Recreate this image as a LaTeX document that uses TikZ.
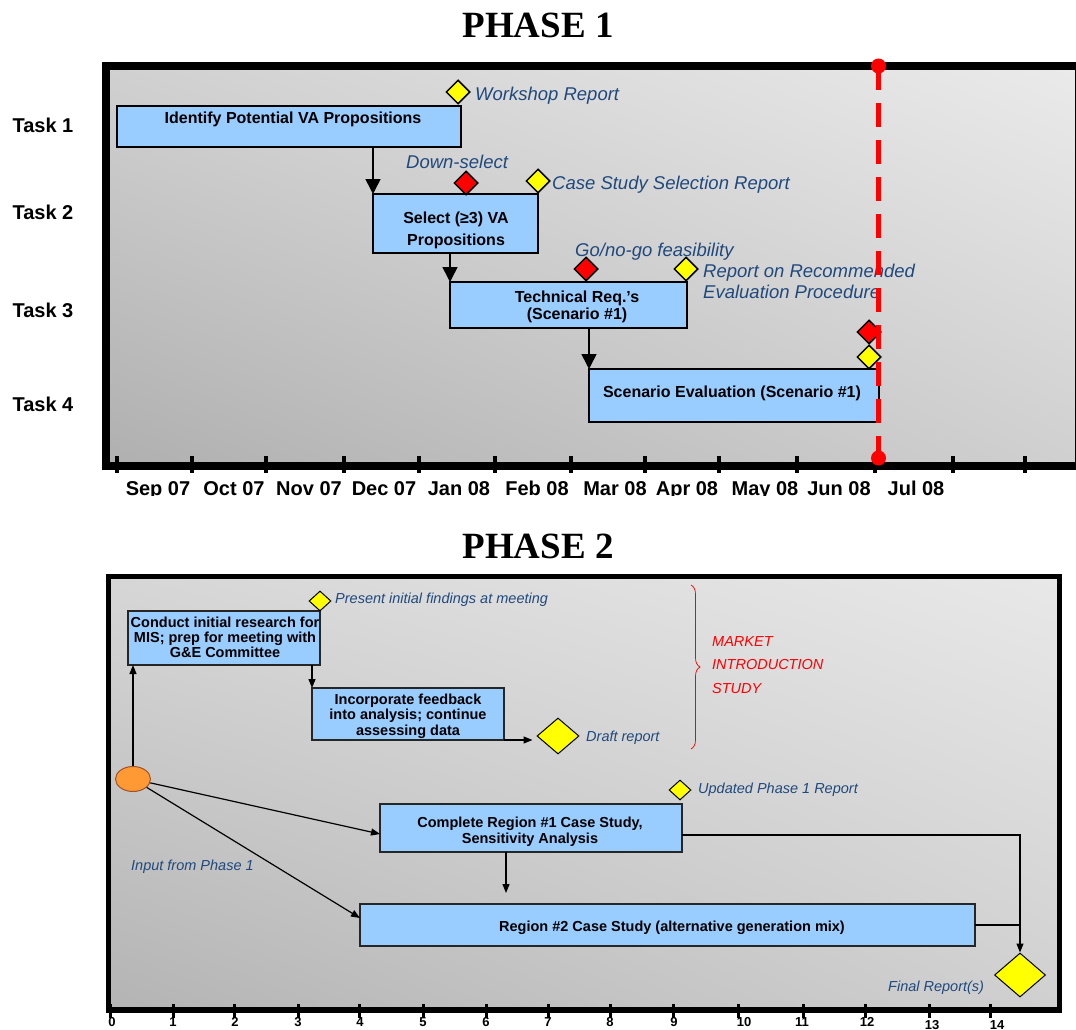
\documentclass[tikz,border=0pt]{standalone}
\usepackage{fontspec}
\setmainfont{Liberation Sans}
\newfontfamily\titleserif{Liberation Serif}
\usetikzlibrary{shapes.geometric,arrows.meta,decorations.pathreplacing,calc,shadings}
\definecolor{boxblue}{HTML}{99CCFF}
\definecolor{lblue}{HTML}{1F497D}
\definecolor{myred}{HTML}{FF0000}
\definecolor{myyellow}{HTML}{FFFF00}
\definecolor{myorange}{HTML}{FF9933}
\definecolor{circedge}{HTML}{A0522D}
\tikzset{
  title/.style={font=\titleserif\bfseries\fontsize{37}{40}\selectfont, anchor=base, inner sep=0pt},
  tasklab/.style={font=\bfseries\fontsize{20}{22}\selectfont, anchor=base, inner sep=0pt},
  month/.style={font=\bfseries\fontsize{20}{22}\selectfont, anchor=base, inner sep=0pt},
  axnum/.style={font=\bfseries\fontsize{13}{14}\selectfont, anchor=base, inner sep=0pt},
  boxA/.style={draw=black, line width=1.8pt, fill=boxblue, rectangle, inner sep=0pt, outer sep=0pt, anchor=north west},
  boxB/.style={draw=black!85, line width=1.2pt, fill=boxblue, rectangle, inner sep=0pt, outer sep=0pt, anchor=north west},
  txtA/.style={font=\bfseries\fontsize{16}{18}\selectfont, anchor=base, inner sep=0pt},
  txtB/.style={font=\bfseries\fontsize{14.5}{15}\selectfont, anchor=base, inner sep=0pt},
  labA/.style={font=\itshape\fontsize{18.5}{21}\selectfont, text=lblue, anchor=base west, inner sep=0pt},
  labB/.style={font=\itshape\fontsize{14.5}{16}\selectfont, text=lblue, anchor=base west, inner sep=0pt},
  labR/.style={font=\itshape\fontsize{14.5}{16}\selectfont, text=myred, anchor=base west, inner sep=0pt},
  ydia/.style={diamond, draw=black, line width=1.5pt, fill=myyellow, inner sep=0pt, minimum width=24pt, minimum height=24pt},
  rdia/.style={diamond, draw=black, line width=1.5pt, fill=myred, inner sep=0pt, minimum width=24pt, minimum height=24pt},
  ydiaB/.style={diamond, draw=black, line width=1pt, fill=myyellow, inner sep=0pt},
  arrA/.style={line width=1.6pt, -{Triangle[width=15pt,length=15pt]}},
  arrB/.style={line width=1.2pt, -{Triangle[width=7pt,length=9pt]}},
  connB/.style={line width=1.2pt},
  reddot/.style={circle, fill=myred, inner sep=0pt, minimum size=15pt},
  reddash/.style={myred, line width=5pt, dash pattern=on 24pt off 13pt},
}
\begin{document}
\begin{tikzpicture}[x=1pt,y=-1pt]
\useasboundingbox (0,0) rectangle (1076,1030);

% ================= PHASE 1 =================
\node[title] (title1) at (538,38) {PHASE 1};

\shade[upper left={rgb,255:red,208;green,208;blue,208}, upper right={rgb,255:red,234;green,234;blue,234},
       lower left={rgb,255:red,176;green,176;blue,176}, lower right={rgb,255:red,208;green,208;blue,208}]
  (110,70) rectangle (1075,462);
\draw[line width=8pt] (106,62) -- (106,470);
\draw[line width=8pt] (102,66) -- (1076,66);
\draw[line width=1pt] (1075,66) -- (1075,466);
\draw[line width=8pt] (102,466) -- (1076,466);
\foreach \x in {117,192,266,344,419,495,571,645,719,797,875,953,1025}
  \draw[line width=4pt] (\x,456) -- (\x,473);

\begin{scope}
  \clip (100,472) rectangle (1076,495.5);
  \foreach \x/\m [count=\i] in {158/Sep 07,234/Oct 07,309/Nov 07,384/Dec 07,459/Jan 08,537/Feb 08,615/Mar 08,687/Apr 08,765/May 08,839/Jun 08,916/Jul 08}
    \node[month] (mon\i) at (\x,495) {\m};
\end{scope}

\node[tasklab] (task1) at (43,133) {Task 1};
\node[tasklab] (task2) at (43,219) {Task 2};
\node[tasklab] (task3) at (43,317) {Task 3};
\node[tasklab] (task4) at (43,411) {Task 4};

\node[boxA, minimum width=344pt, minimum height=41pt] (b1) at (117,106) {};
\node[boxA, minimum width=165pt, minimum height=59pt] (b2) at (373,194) {};
\node[boxA, minimum width=237pt, minimum height=46pt] (b3) at (450,282) {};
\node[boxA, minimum width=290pt, minimum height=53pt] (b4) at (589,369) {};

\node[txtA] (b1t) at (293,124) {Identify Potential VA Propositions};
\node[txtA] (b2t1) at (456,223) {Select (≥3) VA};
\node[txtA] (b2t2) at (456,245) {Propositions};
\node[txtA] (b3t1) at (577,302) {Technical Req.’s};
\node[txtA] (b3t2) at (577,319) {(Scenario \#1)};
\node[txtA] (b4t) at (732,397) {Scenario Evaluation (Scenario \#1)};

\draw[arrA] (b2.north west |- b1.south) -- (b2.north west);
\draw[arrA] (b3.north west |- b2.south) -- (b3.north west);
\draw[arrA] (b4.north west |- b3.south) -- (b4.north west);

\node[ydia] (ms1) at (458,92) {};
\node[rdia] (ms2) at (466,183) {};
\node[ydia] (ms3) at (538,181) {};
\node[rdia] (ms4) at (586,269) {};
\node[ydia] (ms5) at (686,269) {};
\node[rdia] (ms6) at (869,332) {};
\node[ydia] (ms7) at (869,357) {};

\node[labA] (l1) at (475,101) {Workshop Report};
\node[labA] (l2) at (406,168) {Down-select};
\node[labA] (l3) at (552,189) {Case Study Selection Report};
\node[labA] (l4) at (575,256) {Go/no-go feasibility};
\node[labA] (l5) at (703,277) {Report on Recommended};
\node[labA] (l6) at (703,298) {Evaluation Procedure};

\node[reddot] (rtop) at (878.5,66) {};
\node[reddot] (rbot) at (878.5,458) {};
\draw[reddash] (rtop.center) -- (rbot.center);

% ================= PHASE 2 =================
\node[title] (title2) at (538,558) {PHASE 2};

\shade[upper left={rgb,255:red,214;green,214;blue,214}, upper right={rgb,255:red,232;green,232;blue,232},
       lower left={rgb,255:red,180;green,180;blue,180}, lower right={rgb,255:red,208;green,208;blue,208}]
  (111,579) rectangle (1057,1007);
\draw[line width=5.5pt] (108.5,574) -- (108.5,1012.5);
\draw[line width=5.5pt] (106,576.5) -- (1061.5,576.5);
\draw[line width=5pt] (1059,574) -- (1059,1012.5);
\draw[line width=6pt] (106,1009.5) -- (1061.5,1009.5);
\foreach \x in {110,173,234,298,359,423,486,548,610,673,738,803,865,929,990}
  \draw[line width=3pt] (\x,1004) -- (\x,1018);
\foreach \x/\n/\y in {112/0/1026,173/1/1026,235/2/1026,298/3/1026,360/4/1026,423/5/1026,486/6/1026,548/7/1026,610/8/1026,674/9/1026,744/10/1026,802/11/1026,867/12/1026,932/13/1029,997/14/1029}
  \node[axnum] (ax\n) at (\x,\y) {\n};

\node[boxB, minimum width=192pt, minimum height=54pt] (A) at (128,611) {};
\node[boxB, minimum width=192pt, minimum height=52pt] (B) at (312,688) {};
\node[boxB, minimum width=302pt, minimum height=48pt] (C) at (380,804) {};
\node[boxB, minimum width=615pt, minimum height=42pt] (D) at (360,904) {};

\node[txtB] (At1) at (225,627) {Conduct initial research for};
\node[txtB] (At2) at (225,642) {MIS; prep for meeting with};
\node[txtB] (At3) at (225,657) {G\&E Committee};
\node[txtB] (Bt1) at (408,704) {Incorporate feedback};
\node[txtB] (Bt2) at (408,719) {into analysis; continue};
\node[txtB] (Bt3) at (408,735) {assessing data};
\node[txtB] (Ct1) at (530,827) {Complete Region \#1 Case Study,};
\node[txtB] (Ct2) at (530,843) {Sensitivity Analysis};
\node[txtB] (Dt) at (672,931) {Region \#2 Case Study (alternative generation mix)};

\node[ellipse, fill=myorange, draw=circedge, line width=1pt, inner sep=0pt, minimum width=35pt, minimum height=25pt] (src) at (133,779) {};

\node[ydiaB, minimum width=22pt, minimum height=20pt] (pd) at (320,601) {};
\node[ydiaB, minimum width=42pt, minimum height=36pt] (dd) at (558,736) {};
\node[ydiaB, minimum width=22pt, minimum height=20pt] (ud) at (680,790) {};
\node[ydiaB, minimum width=51pt, minimum height=44pt] (fd) at (1020,975) {};

\node[labB] (p2l1) at (335,603) {Present initial findings at meeting};
\node[labB] (p2l2) at (586,741) {Draft report};
\node[labB] (p2l3) at (698,793) {Updated Phase 1 Report};
\node[labB] (p2l4) at (131,870) {Input from Phase 1};
\node[labB] (p2l5) at (888,991) {Final Report(s)};

\coordinate (brtop) at (691,585);
\coordinate (brbot) at (691,749);
\draw[myred, line width=0.7pt, decorate, decoration={brace, amplitude=9pt}] (brtop) -- (brbot);
\node[labR] (mis1) at (712,646) {MARKET};
\node[labR] (mis2) at (712,669) {INTRODUCTION};
\node[labR] (mis3) at (712,693) {STUDY};

\draw[arrB] (src.north) -- (src.north |- A.south);
\draw[arrB] (B.north west |- A.south) -- (B.north west);
\draw[arrB, shorten >=4pt] (B.south east) -- (B.south east -| dd.west);
\draw[arrB] (src) -- ($(C.west)+(0,6)$);
\draw[arrB] (src) -- ($(D.west)+(0,-7)$);
\coordinate (cdown) at ($(C.south)+(-25,0)$);
\draw[arrB, shorten >=11pt] (cdown) -- (cdown |- D.north);
\coordinate (ce) at ($(C.east)+(0,7)$);
\draw[arrB] (ce) -- (ce -| fd.north) -- (fd.north);
\draw[connB] (D.east) -- (D.east -| fd.north);
\end{tikzpicture}
\end{document}
